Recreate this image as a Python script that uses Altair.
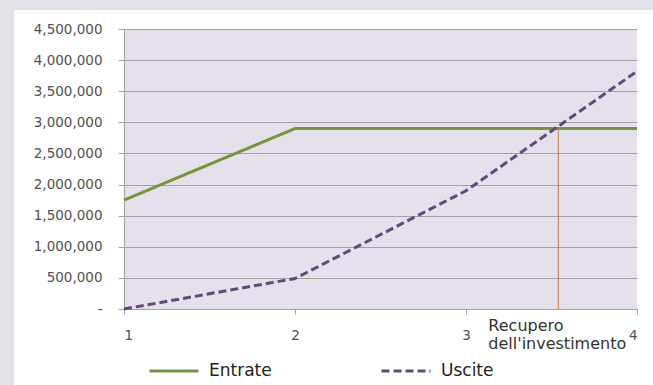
import altair as alt
import pandas as pd

# --- data -------------------------------------------------------------
periodi = [1, 2, 3, 4]
entrate = [1750000, 2900000, 2900000, 2900000]
uscite = [0, 490000, 1900000, 3820000]
serie = ["Entrate", "Uscite"]
colori = ["#77933c", "#5f4b7b"]
tratteggi = [[1, 0], [8, 4]]

recupero_x = 3.54
recupero_y = 2900000
recupero_testo = ["Recupero", "dell'investimento"]

y_ticks = [0, 500000, 1000000, 1500000, 2000000, 2500000, 3000000, 3500000, 4000000, 4500000]

# --- tables -----------------------------------------------------------
df = pd.DataFrame({
    "periodo": periodi * 2,
    "valore": entrate + uscite,
    "serie": [serie[0]] * len(periodi) + [serie[1]] * len(periodi),
})
df_rec = pd.DataFrame({"x": [recupero_x], "y0": [0], "y1": [recupero_y],
                       "testo": [recupero_testo]})
one_row = pd.DataFrame({"k": [0]})

FONT = "DejaVu Sans"
GRAY = "#a3a3a3"
W, H = 513, 280
PAD = {"left": 124, "top": 29, "right": 16, "bottom": 76}

x_scale = alt.Scale(domain=[1, 4], nice=False, zero=False)
y_scale = alt.Scale(domain=[0, 4500000], nice=False)

# shared axes so every layer agrees on ticks
x_axis = alt.Axis(values=periodi, format="d", title=None, grid=False,
                  tickSize=5, labelPadding=14, labelOverlap=False)
y_axis = alt.Axis(values=y_ticks, title=None, grid=True, tickSize=6,
                  labelPadding=16, labelOverlap=False, labelBound=False,
                  labelExpr="datum.value == 0 ? '-' : format(datum.value, ',')")

legend = alt.Legend(
    title=None, orient="none", legendX=24, legendY=316, direction="horizontal",
    symbolType="stroke", symbolSize=2400, symbolStrokeWidth=3,
    labelFont=FONT, labelFontSize=17, labelColor="#222222",
    labelOffset=9, columnPadding=103,
)

# outer frame bands (top and left strips around the white panel)
frame_top = alt.Chart(one_row).mark_rect(color="#e1e3e9").encode(
    x=alt.value(-PAD["left"]), x2=alt.value(W + PAD["right"]),
    y=alt.value(-PAD["top"]), y2=alt.value(-PAD["top"] + 10),
)
frame_left = alt.Chart(one_row).mark_rect(color="#e1e3e9").encode(
    x=alt.value(-PAD["left"]), x2=alt.value(-PAD["left"] + 14),
    y=alt.value(-PAD["top"]), y2=alt.value(H + PAD["bottom"]),
)

lines = alt.Chart(df).mark_line(strokeWidth=3).encode(
    x=alt.X("periodo:Q", scale=x_scale, axis=x_axis),
    y=alt.Y("valore:Q", scale=y_scale, axis=y_axis),
    color=alt.Color("serie:N", scale=alt.Scale(domain=serie, range=colori), legend=legend),
    strokeDash=alt.StrokeDash("serie:N", scale=alt.Scale(domain=serie, range=tratteggi),
                              legend=legend),
)

rule = alt.Chart(df_rec).mark_rule(color="#b87f4c", strokeWidth=1).encode(
    x=alt.X("x:Q", scale=x_scale, axis=x_axis),
    y=alt.Y("y0:Q", scale=y_scale, axis=y_axis),
    y2="y1:Q",
)

label = alt.Chart(df_rec).mark_text(
    align="left", baseline="alphabetic", dx=-70, dy=22, lineHeight=18,
    font=FONT, fontSize=16, color="#333333",
).encode(
    x=alt.X("x:Q", scale=x_scale, axis=x_axis),
    y=alt.Y("y0:Q", scale=y_scale, axis=y_axis),
    text="testo",
)

chart = alt.layer(frame_top, frame_left, lines, rule, label).properties(
    width=W, height=H,
    autosize=alt.AutoSizeParams(type="none"),
    padding=PAD,
    background="white",
).configure_view(
    fill="#e5e0ec", stroke=None,
).configure_axis(
    labelFont=FONT, labelFontSize=13.5, labelColor="#505050",
    domainColor=GRAY, tickColor=GRAY, gridColor=GRAY, gridWidth=1,
)

chart.save("out.html", embed_options={"renderer": "svg", "actions": False})
